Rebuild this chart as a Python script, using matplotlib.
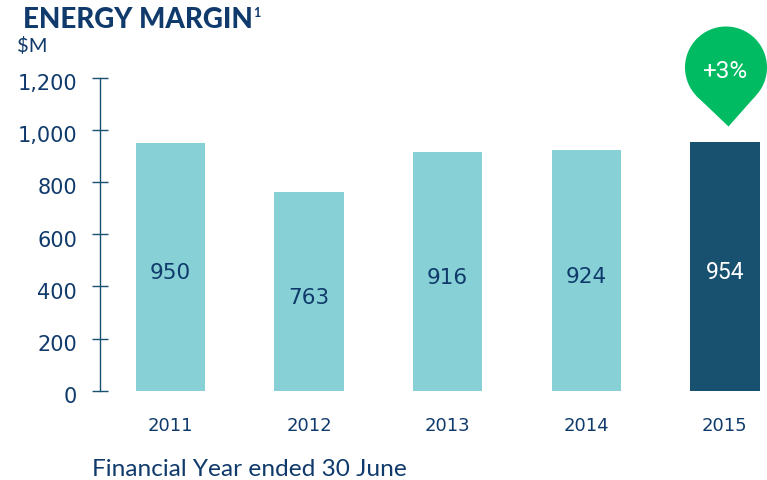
import matplotlib
matplotlib.use("Agg")
import matplotlib.pyplot as plt
from matplotlib.patches import Circle, Polygon
from matplotlib.transforms import ScaledTranslation

years = ["2011", "2012", "2013", "2014", "2015"]
margin = [950, 763, 916, 924, 954]
yticks = [0, 200, 400, 600, 800, 1000, 1200]
ytick_labels = ["0", "200", "400", "600", "800", "1,000", "1,200"]
change = "+3%"

W, H = 767, 481
NAVY = "#0f3a6b"
LIGHT = "#87d1d6"
DARK = "#18506f"
GREEN = "#00bb62"

plt.rcParams["font.family"] = ["Lato", "DejaVu Sans"]

fig = plt.figure(figsize=(W / 100, H / 100), dpi=100)
ax = fig.add_axes([100.5 / W, 1 - 391.8 / H, (W - 100.5) / W, (391.8 - 78.5) / H])

# bars
x = list(range(len(years)))
colors = [LIGHT] * 4 + [DARK]
ax.bar(x, margin, width=0.5, color=colors)
ax.set_xlim(-0.505, 4.304)
ax.set_ylim(0, 1200)

for s in ["top", "right", "bottom"]:
    ax.spines[s].set_visible(False)
ax.spines["left"].set_color(DARK)
ax.spines["left"].set_linewidth(1.0)

ax.set_yticks(yticks)
ax.set_yticklabels(ytick_labels, family="DejaVu Sans")
ax.set_xticks(x)
ax.set_xticklabels(years, family="DejaVu Sans")
ax.tick_params(axis="y", direction="inout", length=11, width=1.0, color=DARK,
               labelsize=15, labelcolor=NAVY, pad=11.5)
ax.tick_params(axis="x", length=0, labelsize=13, labelcolor=NAVY, pad=18.5)

# labels sit a little below their ticks
down = ScaledTranslation(0, -3.5 / 100, fig.dpi_scale_trans)
for lab in ax.get_yticklabels():
    lab.set_transform(lab.get_transform() + down)
    lab.set_clip_on(False)

# value labels
for i, v in enumerate(margin):
    if i == 4:
        ax.annotate(str(v), (i, v / 2), xytext=(0, -4), textcoords="offset points",
                    ha="center", va="center", fontsize=16.5, color="white", family="Roboto")
    else:
        ax.annotate(str(v), (i, v / 2), xytext=(0, -4), textcoords="offset points",
                    ha="center", va="center", fontsize=15.5, color=NAVY, family="DejaVu Sans")

# titles
fig.text(23 / W, 1 - 27.5 / H, "ENERGY MARGIN", fontsize=20, fontweight="black",
         color=NAVY, va="baseline")
fig.text(253 / W, 1 - 17 / H, "1", fontsize=9, fontweight="bold", color=NAVY, va="baseline")
fig.text(17 / W, 1 - 52 / H, "$M", fontsize=14.5, color=NAVY, va="baseline")
fig.text(92 / W, 1 - 476.5 / H, "Financial Year ended 30 June", fontsize=17.6,
         color=NAVY, va="baseline")

# green pin, drawn on a pixel overlay
pin = fig.add_axes([0, 0, 1, 1], facecolor="none")
pin.set_axis_off()
pin.set_xlim(0, W)
pin.set_ylim(H, 0)
pin.add_patch(Circle((726, 68.5), 41, color=GREEN, lw=0))
pin.add_patch(Polygon([(696.5, 97), (728.5, 127.5), (755.5, 97)], closed=True, color=GREEN, lw=0))
pin.text(724.5, 72, change, fontsize=17.5, color="white", ha="center", va="center",
         family="Roboto")

fig.savefig("out.png", dpi=100)
